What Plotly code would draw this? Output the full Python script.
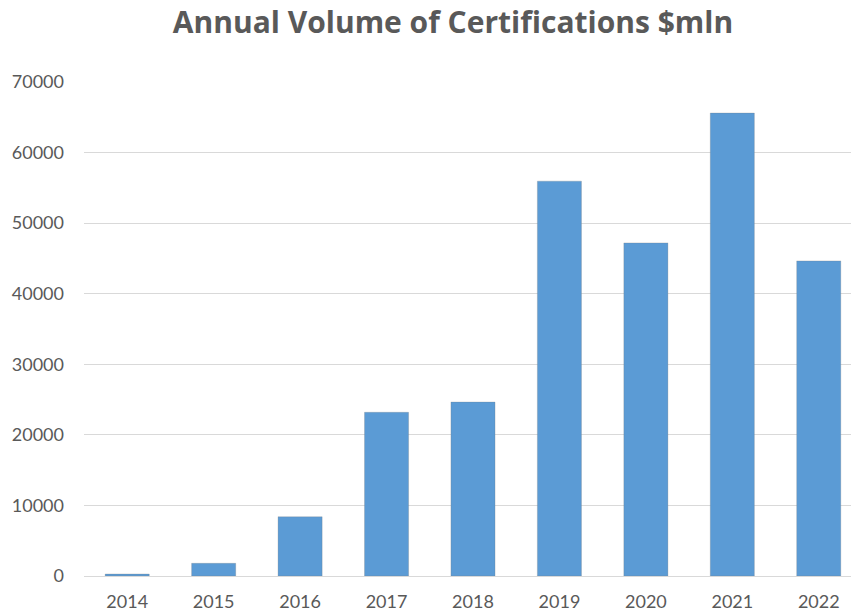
import plotly.graph_objects as go

years = ["2014", "2015", "2016", "2017", "2018", "2019", "2020", "2021", "2022"]
volumes = [280, 1800, 8400, 23200, 24650, 55950, 47200, 65600, 44650]
y_ticks = [0, 10000, 20000, 30000, 40000, 50000, 60000, 70000]

W, H = 851, 613
fig = go.Figure()
fig.add_trace(go.Bar(
    x=list(range(len(years))),
    y=volumes,
    width=0.51,
    marker=dict(color="#5B9BD5", line=dict(color="rgba(120,120,120,0.25)", width=1)),
    hoverinfo="x+y",
))

fig.update_layout(
    width=W, height=H,
    margin=dict(l=84, r=0, t=82, b=37),
    paper_bgcolor="white", plot_bgcolor="white",
    showlegend=False,
    font=dict(family="Lato, Calibri, sans-serif", color="#595959", size=18),
    title=dict(
        text="<b>Annual Volume of Certifications $mln</b>",
        x=453 / W, xanchor="center", xref="container",
        y=1 - 22 / H, yanchor="middle", yref="container",
        font=dict(family="Open Sans, Calibri, sans-serif", size=30, color="#595959"),
    ),
    bargap=0.49,
)
fig.update_xaxes(
    tickmode="array",
    tickvals=list(range(len(years))),
    ticktext=years,
    range=[-0.5, 8.373],
    showgrid=False, zeroline=False,
    showline=False,
    ticks="",
    ticklabelstandoff=13,
    tickfont=dict(size=18, color="#595959"),
    fixedrange=True,
)
fig.update_yaxes(
    range=[0, 70000],
    tickmode="array",
    tickvals=y_ticks,
    ticktext=[str(v) for v in y_ticks],
    showgrid=True, gridcolor="#D9D9D9", gridwidth=1.3,
    zeroline=True, zerolinecolor="#D9D9D9", zerolinewidth=1.3,
    showline=False, ticks="",
    ticklabelstandoff=19,
    tickfont=dict(size=18, color="#595959"),
    fixedrange=True,
)

fig.write_html("out.html")
